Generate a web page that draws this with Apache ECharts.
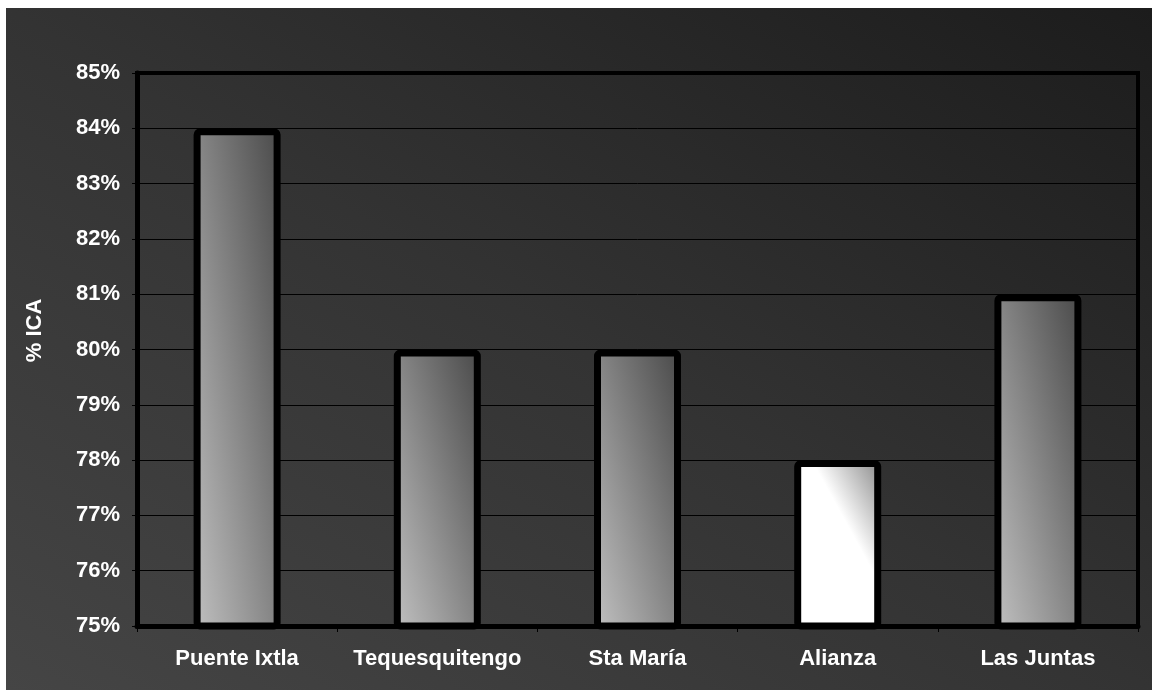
<!DOCTYPE html>
<html>
<head>
<meta charset="utf-8">
<script src="https://cdn.jsdelivr.net/npm/echarts@6/dist/echarts.min.js"></script>
<style>
  html, body { margin: 0; padding: 0; background: #ffffff; }
  #chart {
    position: absolute; left: 6px; top: 8px; width: 1146px; height: 682px;
    background: linear-gradient(to bottom left, #1c1c1c 0%, #333333 50%, #454545 100%);
  }
</style>
</head>
<body>
<div id="chart"></div>
<script>
// Sampling sites and their ICA percentage
const categories = ['Puente Ixtla', 'Tequesquitengo', 'Sta María', 'Alianza', 'Las Juntas'];
const icaValues = [84, 80, 80, 78, 81];
const yTicks = { min: 75, max: 85, interval: 1 };
const yAxisTitle = '% ICA';

const FONT = "'Liberation Sans', Arial, sans-serif";
const BAR_WIDTH = 87;
const BAR_BORDER = 7;

// Grey shading runs from the lower-left corner (light) to the upper-right corner (dark)
const greyStops = [{ offset: 0, color: '#c4c4c4' }, { offset: 1, color: '#464646' }];

// Corner-to-corner gradient whose iso-lines follow the bar's other diagonal,
// expressed in the bar's own bounding-box coordinates.
function cornerGradient(w, h, stops) {
  const n2 = w * w + h * h;
  const a = (h * h) / n2, b = (w * w) / n2;
  return {
    type: 'linear', global: false,
    x: 0.5 - a, y: 0.5 + b, x2: 0.5 + a, y2: 0.5 - b,
    colorStops: stops
  };
}

// Alianza: white body with a grey wedge in the upper-right corner.
// The wedge edge starts ~20% across the top and falls to the right side ~64% down.
function wedgeGradient(w, h) {
  const ex = 56, ey = 100;                 // direction of the wedge edge, px
  const len = Math.hypot(ex, ey);
  const dx = ey / len, dy = -ex / len;     // perpendicular, pointing to the corner
  const sx = 0.2 * w, sy = 0;              // where the wedge edge meets the top
  const reach = (w - sx) * dx;             // distance from edge to the corner
  return {
    type: 'linear', global: false,
    x: sx / w, y: sy / h,
    x2: (sx + reach * dx) / w, y2: (sy + reach * dy) / h,
    colorStops: [{ offset: 0, color: '#ffffff' }, { offset: 1, color: '#888888' }]
  };
}

const chart = echarts.init(document.getElementById('chart'), null, { renderer: 'canvas' });

const baseOption = {
  backgroundColor: 'transparent',
  animation: false,
  grid: {
    left: 131, right: 14, top: 65, bottom: 64,
    show: true, borderColor: '#000', borderWidth: 4, backgroundColor: 'transparent'
  },
  xAxis: {
    type: 'category',
    data: categories,
    axisLine: { show: true, lineStyle: { color: '#000', width: 5 } },
    axisTick: { show: true, alignWithLabel: false, length: 6, lineStyle: { color: '#000', width: 1 } },
    axisLabel: { interval: 0, color: '#ffffff', fontFamily: FONT, fontWeight: 'bold', fontSize: 22, margin: 22 },
    splitLine: { show: false }
  },
  yAxis: {
    type: 'value',
    min: yTicks.min, max: yTicks.max, interval: yTicks.interval,
    name: yAxisTitle,
    nameLocation: 'middle',
    nameRotate: 90,
    nameGap: 91,
    nameTextStyle: { color: '#ffffff', fontFamily: FONT, fontWeight: 'bold', fontSize: 22, padding: [0, 0, 0, 38] },
    axisLine: { show: true, lineStyle: { color: '#000', width: 5 } },
    axisTick: { show: true, length: 5, lineStyle: { color: '#000', width: 1 } },
    axisLabel: { color: '#ffffff', fontFamily: FONT, fontWeight: 'bold', fontSize: 22, margin: 17, formatter: '{value}%' },
    splitLine: { show: true, lineStyle: { color: '#000', width: 1 } }
  },
  series: [{
    type: 'bar',
    data: icaValues,
    barWidth: BAR_WIDTH,
    itemStyle: { color: '#999', borderColor: '#000', borderWidth: BAR_BORDER, borderRadius: 3 }
  }]
};
chart.setOption(baseOption);

// Per-bar fills, sized from each bar's pixel height on the value axis
const basePx = chart.convertToPixel({ yAxisIndex: 0 }, yTicks.min);
const barData = icaValues.map((v, i) => {
  const h = Math.abs(basePx - chart.convertToPixel({ yAxisIndex: 0 }, v)) - BAR_BORDER;
  const w = BAR_WIDTH - BAR_BORDER;
  const fill = categories[i] === 'Alianza' ? wedgeGradient(w, h) : cornerGradient(w, h, greyStops);
  return { value: v, itemStyle: { color: fill } };
});
chart.setOption({ series: [{ data: barData }] });
</script>
</body>
</html>
